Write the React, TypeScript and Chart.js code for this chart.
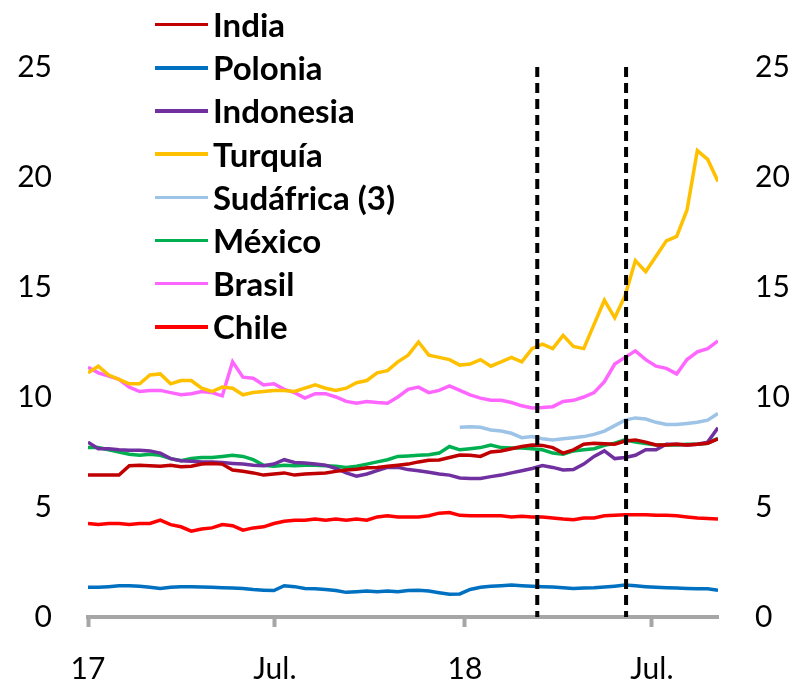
import React, { useEffect, useRef } from "react";
import { Chart, registerables } from "chart.js";

Chart.register(...registerables);

// Day offsets since 1 Jan 2017 (every 10 days)
const days = [
  0, 10, 20, 30, 40, 50, 60, 70, 80, 90, 100, 110, 120, 130, 140, 150, 160, 170, 180, 190,
  200, 210, 220, 230, 240, 250, 260, 270, 280, 290, 300, 310, 320, 330, 340, 350, 360, 370, 380, 390,
  400, 410, 420, 430, 440, 450, 460, 470, 480, 490, 500, 510, 520, 530, 540, 550, 560, 570, 580, 590,
  600, 610,
];

const seriesNames = ["India", "Polonia", "Indonesia", "Turquía", "Sudáfrica (3)", "México", "Brasil", "Chile"];
const seriesColors = ["#C00000", "#0070C0", "#7030A0", "#FFC000", "#9DC3E6", "#00B050", "#FF66FF", "#FF0000"];

const india = [
  6.45, 6.45, 6.45, 6.45, 6.88, 6.9, 6.88, 6.85, 6.9, 6.83, 6.85, 6.95, 6.98, 6.95, 6.68, 6.62, 6.55, 6.45, 6.5, 6.55,
  6.45, 6.5, 6.52, 6.55, 6.62, 6.68, 6.72, 6.78, 6.8, 6.85, 6.9, 6.95, 7.05, 7.12, 7.14, 7.25, 7.36, 7.35, 7.3, 7.5,
  7.55, 7.65, 7.75, 7.82, 7.8, 7.7, 7.45, 7.6, 7.85, 7.9, 7.88, 7.85, 8.0, 8.05, 7.95, 7.82, 7.82, 7.85, 7.82, 7.85,
  7.9, 8.1,
];
const polonia = [
  1.35, 1.35, 1.38, 1.42, 1.42, 1.4, 1.35, 1.3, 1.35, 1.38, 1.37, 1.36, 1.35, 1.33, 1.32, 1.3, 1.25, 1.22, 1.2, 1.42,
  1.38, 1.3, 1.28, 1.25, 1.2, 1.12, 1.15, 1.18, 1.15, 1.18, 1.15, 1.2, 1.22, 1.18, 1.1, 1.03, 1.05, 1.25, 1.35, 1.4,
  1.42, 1.45, 1.42, 1.4, 1.38, 1.36, 1.33, 1.3, 1.32, 1.33, 1.36, 1.4, 1.45, 1.42, 1.38, 1.35, 1.33, 1.32, 1.3, 1.28,
  1.28, 1.22,
];
const indonesia = [
  7.95, 7.65, 7.65, 7.6, 7.58, 7.58, 7.55, 7.45, 7.2, 7.1, 7.08, 7.05, 7.05, 7.02, 6.98, 6.95, 6.9, 6.88, 6.95, 7.15,
  7.02, 7.0, 6.95, 6.9, 6.75, 6.55, 6.4, 6.5, 6.65, 6.8, 6.8, 6.7, 6.65, 6.58, 6.5, 6.45, 6.32, 6.3, 6.3, 6.38,
  6.45, 6.55, 6.65, 6.75, 6.88, 6.8, 6.68, 6.7, 6.95, 7.3, 7.55, 7.2, 7.25, 7.35, 7.6, 7.6, 7.85, 7.85, 7.82, 7.85,
  7.95, 8.6,
];
const turquia = [
  11.1, 11.4, 11.0, 10.8, 10.6, 10.6, 11.0, 11.05, 10.6, 10.75, 10.75, 10.4, 10.25, 10.45, 10.4, 10.1, 10.2, 10.25, 10.3, 10.3,
  10.25, 10.4, 10.55, 10.4, 10.3, 10.4, 10.65, 10.75, 11.1, 11.2, 11.6, 11.9, 12.5, 11.9, 11.8, 11.7, 11.45, 11.5, 11.7, 11.4,
  11.6, 11.8, 11.6, 12.2, 12.4, 12.2, 12.8, 12.3, 12.2, 13.3, 14.4, 13.6, 14.6, 16.2, 15.7, 16.4, 17.1, 17.3, 18.5, 21.2,
  20.8, 19.8,
];
const sudafrica = [
  null, null, null, null, null, null, null, null, null, null, null, null, null, null, null, null, null, null, null, null,
  null, null, null, null, null, null, null, null, null, null, null, null, null, null, null, null, 8.62, 8.65, 8.62, 8.5,
  8.45, 8.35, 8.15, 8.2, 8.1, 8.05, 8.1, 8.15, 8.2, 8.3, 8.45, 8.7, 8.95, 9.05, 9.0, 8.85, 8.75, 8.75, 8.8, 8.85,
  8.95, 9.25,
];
const mexico = [
  7.7, 7.7, 7.6, 7.5, 7.4, 7.35, 7.4, 7.35, 7.2, 7.1, 7.2, 7.25, 7.25, 7.3, 7.35, 7.3, 7.15, 6.9, 6.85, 6.9,
  6.88, 6.9, 6.9, 6.88, 6.85, 6.8, 6.85, 6.95, 7.05, 7.15, 7.3, 7.32, 7.35, 7.38, 7.45, 7.75, 7.6, 7.65, 7.7, 7.82,
  7.7, 7.68, 7.68, 7.65, 7.6, 7.45, 7.4, 7.55, 7.6, 7.65, 7.8, 7.9, 8.05, 7.95, 7.88, 7.82, 7.82, 7.82, 7.85, 7.85,
  7.9, 8.12,
];
const brasil = [
  11.35, 11.1, 10.95, 10.8, 10.45, 10.25, 10.3, 10.3, 10.2, 10.1, 10.15, 10.25, 10.2, 10.05, 11.6, 10.9, 10.85, 10.55, 10.6, 10.35,
  10.2, 9.95, 10.15, 10.15, 10.0, 9.8, 9.72, 9.8, 9.75, 9.72, 10.0, 10.35, 10.45, 10.2, 10.3, 10.5, 10.3, 10.1, 9.95, 9.85,
  9.85, 9.75, 9.6, 9.5, 9.52, 9.56, 9.8, 9.85, 10.0, 10.2, 10.7, 11.5, 11.8, 12.1, 11.7, 11.4, 11.3, 11.05, 11.7, 12.05,
  12.2, 12.55,
];
const chile = [
  4.25, 4.2, 4.25, 4.25, 4.2, 4.25, 4.25, 4.4, 4.2, 4.1, 3.9, 4.0, 4.05, 4.2, 4.15, 3.95, 4.05, 4.1, 4.25, 4.35,
  4.4, 4.4, 4.45, 4.4, 4.45, 4.4, 4.45, 4.4, 4.55, 4.6, 4.55, 4.55, 4.55, 4.6, 4.72, 4.75, 4.62, 4.6, 4.6, 4.6,
  4.6, 4.55, 4.58, 4.55, 4.55, 4.5, 4.45, 4.42, 4.5, 4.5, 4.6, 4.62, 4.65, 4.65, 4.65, 4.63, 4.62, 4.6, 4.55, 4.5,
  4.48, 4.45,
];

const seriesValues = [india, polonia, indonesia, turquia, sudafrica, mexico, brasil, chile];

const xTickDays = [0, 181, 365, 546];
const xTickLabels = ["17", "Jul.", "18", "Jul."];
// Dashed event markers (day offsets since 1 Jan 2017): ~12 Mar 2018 and ~6 Jun 2018
const markerDays = [435, 521];

const FONT = "Lato, 'Liberation Sans', sans-serif";

const markerPlugin = {
  id: "markerLines",
  afterDatasetsDraw(chart: any) {
    const { ctx, chartArea, scales } = chart;
    ctx.save();
    ctx.strokeStyle = "#000000";
    ctx.lineWidth = 4;
    ctx.setLineDash([10, 6]);
    markerDays.forEach((d) => {
      const x = scales.x.getPixelForValue(d);
      ctx.beginPath();
      ctx.moveTo(x, chartArea.top);
      ctx.lineTo(x, chartArea.bottom);
      ctx.stroke();
    });
    ctx.restore();
  },
};

export default function App() {
  const canvasRef = useRef<HTMLCanvasElement | null>(null);

  useEffect(() => {
    if (!canvasRef.current) return;
    const datasets = seriesNames.map((name, i) => ({
      label: name,
      data: days.map((d, j) => ({ x: d, y: seriesValues[i][j] })),
      borderColor: seriesColors[i],
      backgroundColor: seriesColors[i],
      borderWidth: 3.5,
      pointRadius: 0,
      tension: 0,
      spanGaps: false,
    }));
    const chart = new Chart(canvasRef.current, {
      type: "line",
      data: { datasets },
      plugins: [markerPlugin],
      options: {
        animation: false,
        responsive: false,
        layout: { padding: { top: 67, left: 0, right: 0, bottom: 0 } },
        plugins: {
          legend: { display: false },
          tooltip: { enabled: false },
        },
        scales: {
          x: {
            type: "linear",
            min: 0,
            max: 610,
            afterFit: (s: any) => {
              s.height = 68;
            },
            afterBuildTicks: (s: any) => {
              s.ticks = xTickDays.map((v) => ({ value: v }));
            },
            ticks: {
              autoSkip: false,
              maxRotation: 0,
              padding: 24,
              color: "#000000",
              font: { family: FONT, size: 30 },
              callback: (v: any) => {
                const idx = xTickDays.indexOf(Number(v));
                return idx >= 0 ? xTickLabels[idx] : "";
              },
            },
            grid: {
              drawOnChartArea: false,
              drawTicks: true,
              tickLength: 10,
              tickWidth: 4,
              tickColor: "#A6A6A6",
            },
            border: { display: true, color: "#A6A6A6", width: 4 },
          },
          y: {
            position: "left",
            min: 0,
            max: 25,
            afterFit: (s: any) => {
              s.width = 88;
            },
            ticks: {
              stepSize: 5,
              padding: 36,
              color: "#000000",
              font: { family: FONT, size: 30 },
            },
            grid: { display: false, drawTicks: false },
            border: { display: false },
          },
          y2: {
            position: "right",
            min: 0,
            max: 25,
            afterFit: (s: any) => {
              s.width = 76;
            },
            ticks: {
              stepSize: 5,
              padding: 37,
              color: "#000000",
              font: { family: FONT, size: 30 },
            },
            grid: { display: false, drawTicks: false },
            border: { display: false },
          },
        },
      },
    } as any);
    return () => chart.destroy();
  }, []);

  return (
    <div style={{ position: "absolute", left: 0, top: 0, width: 794, height: 685, background: "#ffffff" }}>
      <canvas ref={canvasRef} width={794} height={685} style={{ display: "block" }} />
      <div style={{ position: "absolute", left: 155, top: 3 }}>
        {seriesNames.map((name, i) => (
          <div key={name} style={{ display: "flex", alignItems: "center", height: 43.2 }}>
            <span style={{ display: "inline-block", width: 53, height: 3.5, background: seriesColors[i], marginRight: 5 }} />
            <span style={{ fontFamily: FONT, fontWeight: 700, fontSize: 33, color: "#000", lineHeight: "43px", whiteSpace: "nowrap" }}>
              {name}
            </span>
          </div>
        ))}
      </div>
    </div>
  );
}
